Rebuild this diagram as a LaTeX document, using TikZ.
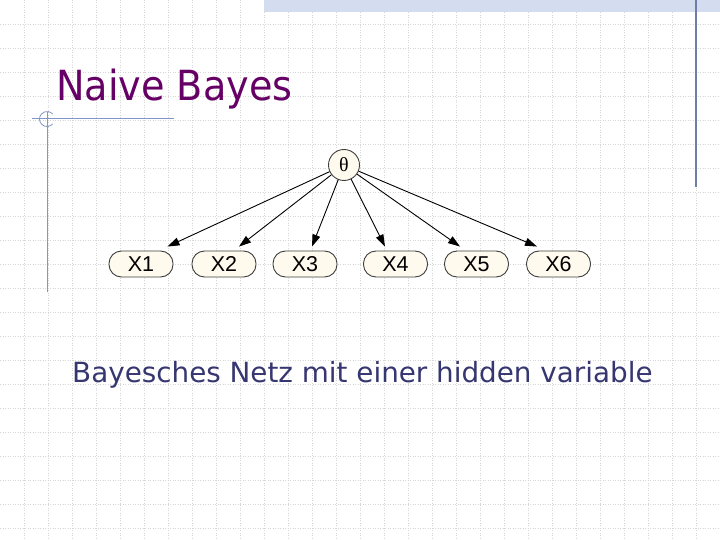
\documentclass[tikz,border=0pt]{standalone}
\usepackage{fontspec}
\newfontfamily\titlefont[FakeStretch=0.92]{DejaVu Sans}
\newfontfamily\bodyfont{DejaVu Sans}
\newfontfamily\nodefont{Liberation Sans}
\newfontfamily\greekfont{Liberation Serif}
\usetikzlibrary{arrows.meta}
\definecolor{titlepurple}{HTML}{660066}
\definecolor{bodyblue}{HTML}{363670}
\definecolor{decoblue}{HTML}{8296CA}
\definecolor{darkdeco}{HTML}{6E7EA8}
\definecolor{bandblue}{HTML}{D4DCF0}
\definecolor{gridgray}{HTML}{D6D6D6}
\definecolor{nodefill}{HTML}{FFFAEE}
\definecolor{nodeedge}{HTML}{404040}
\begin{document}
\begin{tikzpicture}[x=1pt,y=-1pt,
  varbox/.style={draw=nodeedge, fill=nodefill, line width=0.9pt, rounded corners=12.5pt,
    minimum width=64pt, minimum height=26pt, inner sep=0pt,
    font=\nodefont\fontsize{21.5}{24}\selectfont},
  hiddenvar/.style={circle, draw=nodeedge, fill=nodefill, line width=0.9pt,
    minimum size=31pt, inner sep=0pt, font=\greekfont\fontsize{20}{22}\selectfont},
  edge/.style={-{Triangle[length=12pt,width=8pt]}, line width=0.9pt, black},
  gridline/.style={gridgray, line width=0.7pt, dash pattern=on 1pt off 1.5pt},
  deco/.style={decoblue, line width=1pt}]
\useasboundingbox (0,0) rectangle (720,540);
\fill[white] (0,0) rectangle (720,540);
% grid
\foreach \x in {24,48,...,696} \draw[gridline] (\x,0) -- (\x,540);
\foreach \y in {24,48,...,528} \draw[gridline] (0,\y) -- (720,\y);
% top band and right line
\fill[bandblue] (264,0) rectangle (720,12);
\draw[darkdeco, line width=1.2pt] (696,0) -- (696,187);
% left decoration
\draw[deco] (32,119) -- (174,119);
\draw[deco] (47,112) -- (47,292);
\draw[deco, line width=0.8pt] (47,119) ++(40:7.5) arc[start angle=40, end angle=320, radius=7.5];
% texts
\node[anchor=base west, inner sep=0pt, text=titlepurple, font=\titlefont\fontsize{41.5}{48}\selectfont] (title) at (56,101) {Naive Bayes};
\node[anchor=base west, inner sep=0pt, text=bodyblue, font=\bodyfont\fontsize{27.8}{32}\selectfont] (caption) at (72,382) {Bayesches Netz mit einer hidden variable};
% network
\node[hiddenvar] (theta) at (344,165) {θ};
\node[varbox] (X1) at (141,264) {X1};
\node[varbox] (X2) at (224,264) {X2};
\node[varbox] (X3) at (305,264) {X3};
\node[varbox] (X4) at (395.5,264) {X4};
\node[varbox] (X5) at (476.5,264) {X5};
\node[varbox] (X6) at (558.5,264) {X6};
\draw[edge] (theta) -- ([xshift=26.5pt,yshift=4pt]X1.north);
\draw[edge] (theta) -- ([xshift=15pt,yshift=4pt]X2.north);
\draw[edge] (theta) -- ([xshift=7pt,yshift=4pt]X3.north);
\draw[edge] (theta) -- ([xshift=-10.5pt,yshift=4pt]X4.north);
\draw[edge] (theta) -- ([xshift=-16.5pt,yshift=4pt]X5.north);
\draw[edge] (theta) -- ([xshift=-21.5pt,yshift=4pt]X6.north);
\end{tikzpicture}
\end{document}
